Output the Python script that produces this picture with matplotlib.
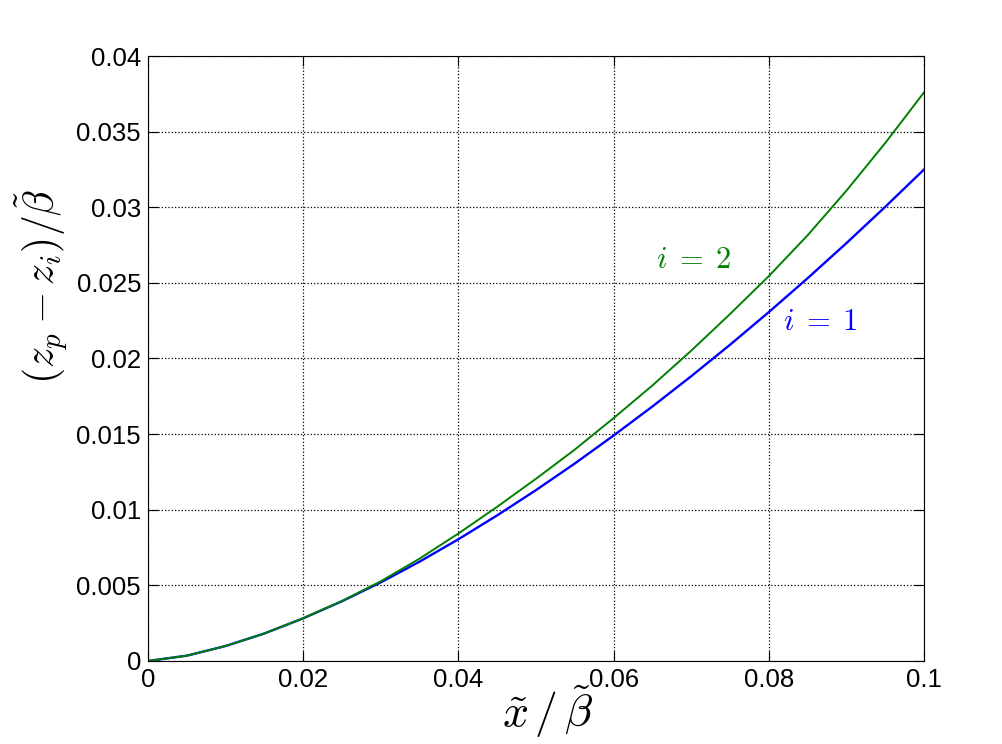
import numpy as np
import matplotlib
matplotlib.use('Agg')
import matplotlib.pyplot as plt

plt.rcParams['font.family'] = ['Liberation Sans', 'DejaVu Sans']
plt.rcParams['mathtext.fontset'] = 'cm'

# Values
x_ratio = [0, 0.005, 0.01, 0.015, 0.02, 0.025, 0.03, 0.035, 0.04, 0.045, 0.05,
           0.055, 0.06, 0.065, 0.07, 0.075, 0.08, 0.085, 0.09, 0.095, 0.1]
dz_i1 = [0, 0.00035, 0.00099, 0.00182, 0.00282, 0.00395, 0.00520, 0.00657, 0.00805,
         0.00963, 0.01130, 0.01306, 0.01491, 0.01683, 0.01883, 0.02091, 0.02307,
         0.02531, 0.02763, 0.03003, 0.03250]
dz_i2 = [0, 0.00035, 0.00099, 0.00182, 0.00283, 0.00397, 0.00527, 0.00677, 0.00843,
         0.01020, 0.01205, 0.01398, 0.01606, 0.01822, 0.02052, 0.02294, 0.02545,
         0.02815, 0.03110, 0.03425, 0.03760]

xticks = [0, 0.02, 0.04, 0.06, 0.08, 0.1]
xtick_labels = ['0', '0.02', '0.04', '0.06', '0.08', '0.1']
yticks = [0, 0.005, 0.01, 0.015, 0.02, 0.025, 0.03, 0.035, 0.04]
ytick_labels = ['0', '0.005', '0.01', '0.015', '0.02', '0.025', '0.03', '0.035', '0.04']

fig = plt.figure(figsize=(10.03, 7.44), dpi=100)
ax = fig.add_axes([0.1476, 0.1116, 0.7737, 0.8131])

ax.plot(x_ratio, dz_i1, color=(0, 0, 1), lw=1.7)
ax.plot(x_ratio, dz_i2, color=(0, 0.5, 0), lw=1.4)

ax.text(0.0703, 0.0265, r'$i\;=\;2$', color=(0, 0.5, 0), fontsize=22,
        ha='center', va='center')
ax.text(0.0867, 0.0224, r'$i\;=\;1$', color=(0, 0, 1), fontsize=22,
        ha='center', va='center')

ax.set_xlim(0, 0.1)
ax.set_ylim(0, 0.04)
ax.set_xticks(xticks)
ax.set_xticklabels(xtick_labels)
ax.set_yticks(yticks)
ax.set_yticklabels(ytick_labels)
ax.tick_params(direction='in', length=7, width=0.8, labelsize=18.5,
               top=True, right=True, pad=5)
ax.grid(True, ls=':', lw=0.9, color='black')
for s in ax.spines.values():
    s.set_linewidth(0.8)

ax.set_xlabel(r'$\tilde{x}\,/\,\tilde{\beta}$', fontsize=33)
ax.xaxis.set_label_coords(0.515, -0.037, transform=ax.transAxes)
ax.xaxis.label.set_va('top')
ax.set_ylabel(r'$(z_p-z_i)/\tilde{\beta}$', fontsize=30)
ax.yaxis.set_label_coords(-0.10, 0.62, transform=ax.transAxes)

fig.savefig('out.png', dpi=100)
